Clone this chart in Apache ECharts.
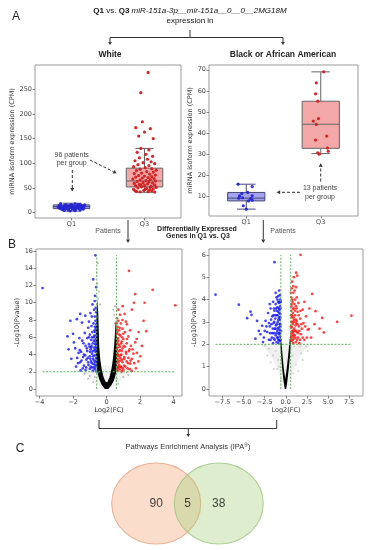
<!DOCTYPE html>
<html><head><meta charset="utf-8">
<script src="https://cdn.jsdelivr.net/npm/echarts@6/dist/echarts.min.js"></script>
<style>html,body{margin:0;padding:0;background:#fff}#c{width:368px;height:550px}</style>
</head><body><div id="c"></div>
<script>
// ---------- DATA ----------
const boxCats = ['Q1', 'Q3'];
// [min, Q1, median, Q3, max]
const whiteBox = [[3, 8, 12, 15.5, 19], [41, 52, 64, 90, 130]];
const blackBox = [[4, 7.9, 9.2, 11.9, 15.8], [30.3, 32.8, 44.2, 55.1, 69]];
// [jitter, CPM]
const whiteQ1 = [[-0.15,18],[0.05,17.5],[0.12,16.8],[-0.08,16.2],[0.18,15.6],[-0.02,15.2],[0.09,14.8],[-0.17,14.5],[0.14,14.1],[-0.1,13.8],[0.02,13.5],[0.16,13.2],[-0.05,13.0],[-0.14,12.7],[0.07,12.5],[0.11,12.2],[-0.09,12.0],[0.0,11.8],[0.17,11.5],[-0.12,11.2],[0.04,11.0],[-0.18,10.7],[0.13,10.4],[-0.03,10.1],[0.08,9.8],[-0.11,9.5],[0.15,9.2],[-0.06,8.9],[0.01,8.6],[-0.16,8.3],[0.1,8.0],[-0.08,7.6],[0.06,7.2],[0.16,6.8],[-0.13,6.4],[0.03,6.0],[-0.04,5.4],[0.12,5.0],[-0.1,4.5],[0.05,3.8],[-0.02,3.2],[0.09,16.0],[-0.07,14.0],[0.14,12.0],[-0.15,9.0],[0.0,15.8],[0.06,10.8],[-0.12,7.0]];
const whiteQ3 = [[0.05,284],[-0.05,243],[-0.03,184],[-0.12,172],[0.08,170],[0.0,163],[-0.08,155],[0.12,150],[-0.05,130],[0.06,127],[-0.1,122],[0.02,118],[0.11,114],[-0.07,111],[0.04,108],[-0.13,105],[0.09,103],[-0.02,101],[0.14,99],[-0.09,97],[0.06,95],[-0.15,93],[0.01,91],[0.1,89],[-0.06,88],[0.16,86],[-0.11,85],[0.03,83],[0.12,82],[-0.04,80],[-0.14,79],[0.07,78],[0.15,76],[-0.08,75],[0.0,74],[0.1,73],[-0.12,72],[0.05,71],[-0.03,70],[0.13,69],[-0.16,68],[0.08,67],[-0.06,66],[0.02,65],[0.15,64],[-0.1,63],[0.06,62],[-0.02,61],[0.11,60],[-0.14,59],[0.04,58],[-0.07,57],[0.14,56],[0.0,55],[-0.12,54],[0.09,53],[-0.04,52],[0.16,51],[-0.09,50],[0.03,49],[0.12,48],[-0.15,47],[0.07,46],[-0.01,45],[0.1,44],[-0.11,43],[0.05,42.5],[-0.06,42],[0.14,41.5],[-0.13,44],[0.01,47],[0.08,51],[-0.05,56]];
const blackQ1 = [[-0.11,15.8],[0.08,14.7],[0.02,11.9],[-0.06,11.4],[-0.09,10.3],[0.08,10.3],[-0.1,9.2],[-0.05,9.4],[0.06,9.0],[0.03,7.9],[0.08,8.2],[-0.04,5.6],[0.0,4.0]];
const blackQ3 = [[0.04,69],[-0.06,63.8],[-0.07,58.6],[-0.04,55.1],[-0.03,46.9],[-0.1,45.7],[-0.06,44.1],[0.08,38.6],[-0.07,36.7],[0.09,32.9],[0.1,31.4],[-0.04,30.7],[-0.02,30.0]];

const whiteBoxTicks = [0, 50, 100, 150, 200, 250];
const blackBoxTicks = [10, 20, 30, 40, 50, 60, 70];
const whiteVolXTicks = [-4, -2, 0, 2, 4];
const whiteVolYTicks = [0, 2, 4, 6, 8, 10, 12, 14, 16];
const blackVolXTicks = [-7.5, -5, -2.5, 0, 2.5, 5, 7.5];
const blackVolYTicks = [0, 1, 2, 3, 4, 5, 6];

const fcCut = 0.585;   // |log2 FC| threshold
const pCut = 2;        // -log10 p threshold

// volcano, White
const whiteBlue = [[-3.82,11.7],[-0.66,15.5],[-0.80,12.7],[-0.71,10.2],[-0.84,9.8],[-0.64,9.4],[-0.97,8.8],[-1.27,8.5],[-1.57,8.7],[-2.16,7.9],[-1.77,8.1],[-1.47,7.7],[-2.33,6.1],[-2.0,6.4],[-1.87,4.7],[-2.27,4.6],[-1.67,4.2],[-2.1,3.5],[-0.62,8.9],[-0.7,8.4],[-0.66,7.9],[-0.78,7.6],[-0.9,7.3],[-1.1,7.1],[-0.64,7.0],[-0.72,6.8],[-0.85,6.6],[-1.3,6.5],[-1.0,6.3],[-0.62,6.2],[-0.76,6.0],[-1.15,5.9],[-0.92,5.7],[-1.45,5.6],[-0.68,5.5],[-0.82,5.3],[-1.05,5.2],[-1.25,5.0],[-0.63,4.9],[-0.74,4.8],[-0.95,4.6],[-1.6,4.5],[-1.15,4.4],[-0.66,4.3],[-0.86,4.1],[-1.35,4.0],[-0.7,3.9],[-1.0,3.8],[-0.62,3.6],[-0.8,3.5],[-1.2,3.4],[-1.5,3.3],[-0.93,3.2],[-0.67,3.1],[-1.7,3.0],[-0.78,2.9],[-1.08,2.8],[-1.35,2.7],[-0.64,2.6],[-0.88,2.5],[-1.0,2.35],[-0.7,2.3],[-1.25,2.2],[-1.55,2.15],[-0.82,2.1],[-0.62,2.05],[-1.1,3.1],[-0.72,4.5],[-0.9,5.0],[-0.68,6.6],[-0.75,3.3],[-0.65,5.8],[-1.4,3.7],[-0.98,4.3],
  [-0.61,7.5],[-0.69,7.2],[-0.76,5.6],[-0.83,4.4],[-0.88,3.0],[-0.95,2.6],[-1.02,4.9],[-1.12,3.6],[-1.18,4.7],[-1.22,2.5],[-1.28,3.9],[-1.38,5.3],[-1.42,2.4],[-1.52,4.3],[-1.58,3.1],[-1.62,5.9],[-1.75,3.6],[-1.82,2.6],[-1.95,5.4],[-0.63,3.3],[-0.65,4.6],[-0.67,5.2],[-0.7,2.8],[-0.73,6.2],[-0.77,2.5],[-0.81,3.8],[-0.86,6.0],[-0.91,4.8],[-0.97,3.5],[-1.05,6.0],[-0.6,5.1],[-0.74,9.2],[-0.88,8.4],[-1.05,7.8],[-0.62,11.8],[-0.69,10.8]];
const whiteRed = [[1.34,13.7],[2.75,11.5],[4.10,9.7],[1.71,11.0],[2.27,10.0],[1.63,10.0],[1.51,9.2],[2.21,7.9],[2.37,6.7],[1.91,6.6],[1.71,5.4],[2.11,5.0],[1.81,4.2],[1.51,3.5],[2.01,3.8],[1.37,4.6],[1.21,7.5],[1.08,8.7],[0.96,9.6],[0.62,8.2],[0.7,7.9],[0.85,7.6],[0.65,7.2],[0.95,7.0],[0.75,6.8],[1.1,6.6],[0.62,6.4],[0.82,6.2],[1.3,6.1],[0.68,5.9],[1.0,5.8],[0.9,5.5],[0.64,5.4],[1.2,5.3],[0.76,5.1],[1.45,5.0],[0.66,4.8],[0.95,4.7],[0.8,4.5],[1.15,4.3],[0.63,4.2],[1.6,4.1],[0.88,4.0],[0.72,3.8],[1.05,3.7],[1.3,3.6],[0.65,3.5],[0.82,3.3],[1.2,3.2],[0.95,3.1],[0.62,3.0],[1.4,2.95],[0.75,2.8],[1.05,2.7],[0.88,2.55],[0.66,2.45],[1.25,2.4],[0.78,2.3],[1.0,2.2],[0.62,2.15],[1.5,2.1],[0.9,2.05],[0.7,2.5],[0.68,3.3],[0.72,4.4],[0.7,5.6],[0.78,7.1],[0.63,6.9],[0.85,3.9],[1.1,4.9],[0.92,6.0],[0.66,2.1],
  [0.61,7.6],[0.64,6.6],[0.67,5.2],[0.69,4.0],[0.71,3.1],[0.73,2.6],[0.76,6.3],[0.79,4.9],[0.81,3.6],[0.84,2.6],[0.87,5.3],[0.9,4.4],[0.93,3.4],[0.97,2.4],[1.02,5.0],[1.06,3.5],[1.12,2.6],[1.17,4.1],[1.22,5.8],[1.28,3.0],[1.33,4.4],[1.38,2.3],[1.43,3.3],[1.55,4.6],[1.65,3.0],[1.75,2.4],[1.9,3.2],[0.6,4.6],[0.62,5.8],[0.66,3.9],[0.8,8.6],[0.95,8.0],[1.15,7.8],[0.7,9.2],[1.4,6.8],[1.8,5.8],[0.63,2.6],[1.0,6.4]];
const whiteGrey = [[-0.5,10.5],[-0.45,11.3],[-0.38,9.8],[0.45,8.6],[0.4,9.2],[-1.0,1.5],[-1.3,1.8],[1.0,1.4],[1.2,1.9],[-0.8,0.8],[0.7,0.6],[-0.5,1.9],[0.9,1.9],[-0.55,12.2],[0.5,9.6],[-0.58,13.5],[-0.52,14.6],[-0.5,8.4],[0.5,7.6],[-1.1,1.2],[1.3,1.6],[-0.7,1.4],[0.6,1.2]];
const whiteCore = [[0.1,0],[-0.1,0],[-0.3,0.5],[-0.45,1.2],[-0.56,2.0],[-0.62,2.8],[-0.64,4.5],[-0.63,7],[-0.6,9],[-0.56,10.4],[-0.5,9],[-0.47,7],[-0.44,5],[-0.38,3.5],[-0.3,2.4],[-0.18,1.4],[-0.05,0.8],[0.05,0.8],[0.18,1.4],[0.3,2.4],[0.38,3.5],[0.45,5],[0.5,6.5],[0.54,8.0],[0.6,6.8],[0.63,4.5],[0.62,2.8],[0.56,1.8],[0.44,1.0],[0.28,0.4]];
const whiteHaze = [[-1.5,2.1],[-1.1,1.5],[-0.7,0.8],[-0.35,0.2],[0,-0.1],[0.35,0.2],[0.75,0.8],[1.15,1.5],[1.6,2.1],[0.7,2.6],[-0.7,2.6]];

// volcano, Black or African American
const blackBlue = [[-8.33,4.22],[-5.57,3.77],[-4.18,3.46],[-4.06,3.32],[-4.58,3.17],[-3.4,3.05],[-2.8,2.83],[-1.34,5.67],[-3.0,2.45],[-2.6,2.3],[-3.6,2.25],[-0.7,4.2],[-0.9,4.15],[-1.1,4.1],[-0.65,4.0],[-1.5,3.9],[-0.8,3.85],[-1.2,3.8],[-0.68,3.7],[-1.0,3.65],[-1.8,3.6],[-0.75,3.55],[-1.35,3.5],[-0.9,3.45],[-2.1,3.4],[-0.65,3.35],[-1.1,3.3],[-1.6,3.25],[-0.8,3.2],[-1.25,3.15],[-0.7,3.1],[-2.4,3.05],[-0.95,3.0],[-1.45,2.95],[-0.66,2.9],[-1.15,2.85],[-1.9,2.8],[-0.85,2.75],[-1.3,2.7],[-0.72,2.65],[-1.0,2.6],[-2.2,2.55],[-1.6,2.5],[-0.8,2.45],[-1.2,2.4],[-0.67,2.35],[-0.95,2.3],[-1.4,2.25],[-1.8,2.2],[-0.75,2.15],[-1.1,2.1],[-0.88,2.05],[-1.5,2.05],[-0.62,2.6],[-0.64,3.6],[-1.0,4.0],[-1.4,3.6],[-2.0,2.95],[-2.5,2.6],[-1.7,2.9],[-0.9,2.2],
  [-0.62,2.2],[-0.64,2.8],[-0.66,3.2],[-0.69,2.5],[-0.71,3.9],[-0.73,2.9],[-0.76,3.4],[-0.79,2.2],[-0.82,3.6],[-0.85,2.5],[-0.87,3.1],[-0.91,3.9],[-0.93,2.7],[-0.97,3.3],[-1.02,2.3],[-1.05,3.5],[-1.08,2.9],[-1.13,2.5],[-1.17,3.6],[-1.22,2.7],[-1.27,3.3],[-1.32,2.2],[-1.37,3.0],[-1.42,2.5],[-1.48,3.3],[-1.55,2.7],[-1.65,2.3],[-1.75,3.1],[-1.85,2.5],[-2.0,2.2],[-2.3,2.8],[-0.6,3.9],[-0.78,4.4],[-1.2,4.3],[-2.7,2.1],[-3.2,2.6],[-1.9,3.8]];
const blackRed = [[1.74,6.0],[1.23,5.2],[1.35,5.07],[1.23,4.55],[3.12,4.25],[7.78,3.28],[6.08,3.0],[4.31,3.18],[3.52,3.48],[4.5,2.53],[2.72,2.68],[0.7,4.5],[0.9,4.3],[0.65,4.1],[1.1,4.0],[0.8,3.9],[1.5,3.85],[0.7,3.8],[1.2,3.7],[0.95,3.6],[2.0,3.55],[0.66,3.5],[1.4,3.45],[0.85,3.4],[1.1,3.3],[2.4,3.25],[0.72,3.2],[1.7,3.15],[0.95,3.1],[1.3,3.05],[0.65,3.0],[2.1,2.95],[0.82,2.9],[1.15,2.85],[1.55,2.8],[0.7,2.75],[1.0,2.7],[2.6,2.65],[0.9,2.6],[1.3,2.55],[0.67,2.5],[1.8,2.45],[1.05,2.4],[0.78,2.35],[1.45,2.3],[0.95,2.25],[2.2,2.2],[0.7,2.15],[1.2,2.1],[0.88,2.05],[1.6,2.05],[0.62,2.3],[0.64,3.3],[0.9,4.6],[1.0,3.0],[1.9,2.7],[3.0,2.3],[2.8,3.6],[1.25,2.95],
  [0.61,2.2],[0.63,2.8],[0.66,3.7],[0.69,2.4],[0.71,3.3],[0.74,2.6],[0.76,4.0],[0.79,3.0],[0.82,2.2],[0.85,3.6],[0.87,2.5],[0.92,3.2],[0.97,2.4],[1.02,3.8],[1.06,2.6],[1.1,3.5],[1.14,2.3],[1.18,3.1],[1.22,2.6],[1.28,3.6],[1.33,2.2],[1.38,2.9],[1.45,2.5],[1.52,3.3],[1.6,2.6],[1.68,2.2],[1.75,3.5],[1.85,2.9],[2.0,2.3],[2.3,2.8],[2.5,2.3],[0.6,4.3],[0.75,4.8],[1.05,4.4],[1.3,4.1],[0.95,5.0],[2.2,3.9],[3.4,2.9],[4.0,2.7]];
const blackGrey = [[-2.0,1.8],[-1.5,1.5],[1.8,1.6],[2.4,1.9],[-1.0,0.9],[1.2,1.1],[-2.5,1.95],[0.6,0.5],[-0.6,0.45],[2.0,1.3],[-1.8,1.2],[1.5,0.8],[-0.4,2.6],[0.4,2.8],[-1.2,1.7],[1.0,1.9],[-2.2,1.5],[2.6,1.7],[-0.9,1.3],[0.9,0.7],[-1.4,0.9],[1.7,1.9],[-0.8,1.0],[0.8,1.5]];
const blackCore = [[0.05,0],[-0.12,0],[-0.3,0.45],[-0.45,1.0],[-0.58,1.6],[-0.66,2.1],[-0.62,2.45],[-0.5,2.05],[-0.38,1.5],[-0.25,0.95],[-0.06,0.45],[0.12,0.95],[0.28,1.5],[0.42,2.05],[0.55,2.45],[0.62,2.1],[0.52,1.6],[0.38,1.0],[0.22,0.45]];
const blackHaze = [[-3.0,2.0],[-2.3,1.75],[-1.6,1.35],[-1.0,0.9],[-0.55,0.45],[-0.2,0.1],[0,0],[0.2,0.1],[0.55,0.45],[1.0,0.9],[1.6,1.35],[2.3,1.75],[3.0,2.0]];

// Venn (pathways): White only, shared, Black only
const vennCounts = [90, 5, 38];
const vennLabelX = [0, 0.5, 1];
const vennCircleX = [0, 1];

// ---------- CHART ----------
const chart = echarts.init(document.getElementById('c'), null, {renderer: 'canvas'});
const TICKC = '#444', FS = 6.5, DV = 'DejaVu Sans', AR = 'Liberation Sans';
const minus = v => (v < 0 ? '\u2212' : '') + Math.abs(v);

function valAxis(grid, min, max, ticks, fmt, extra) {
  return Object.assign({
    type: 'value', gridIndex: grid, min, max,
    axisLine: {show: false, onZero: false},
    splitLine: {show: false},
    axisTick: {show: true, length: 2.5, customValues: ticks, lineStyle: {color: '#666', width: 0.8}},
    axisLabel: {customValues: ticks, fontSize: FS, color: TICKC, fontFamily: DV, margin: 3, formatter: fmt || (v => minus(v))}
  }, extra || {});
}

function boxRender(fills, strokes) {
  return function (params, api) {
    const i = api.value(0);
    const lo = api.coord([i, api.value(1)]), q1 = api.coord([i, api.value(2)]), md = api.coord([i, api.value(3)]),
          q3 = api.coord([i, api.value(4)]), hi = api.coord([i, api.value(5)]);
    const w = api.size([0.5, 0])[0], cw = w / 2, x = lo[0];
    const st = {stroke: strokes[i], lineWidth: 1, fill: null};
    return {type: 'group', children: [
      {type: 'line', shape: {x1: x, y1: hi[1], x2: x, y2: q3[1]}, style: st},
      {type: 'line', shape: {x1: x, y1: q1[1], x2: x, y2: lo[1]}, style: st},
      {type: 'line', shape: {x1: x - cw / 2, y1: hi[1], x2: x + cw / 2, y2: hi[1]}, style: st},
      {type: 'line', shape: {x1: x - cw / 2, y1: lo[1], x2: x + cw / 2, y2: lo[1]}, style: st},
      {type: 'rect', shape: {x: x - w / 2, y: q3[1], width: w, height: q1[1] - q3[1]}, style: {fill: fills[i], stroke: strokes[i], lineWidth: 1}},
      {type: 'line', shape: {x1: x - w / 2, y1: md[1], x2: x + w / 2, y2: md[1]}, style: st}
    ]};
  };
}
function polySeries(x, y, pts, fill, z, smooth) {
  return {type: 'custom', xAxisIndex: x, yAxisIndex: y, data: pts, z, silent: true,
    renderItem: (params, api) => {
      if (params.dataIndex !== 0) return null;
      return {type: 'polygon', shape: {points: pts.map(p => api.coord(p)), smooth: smooth || 0}, style: {fill}};
    }};
}
function strip(x, y, cat, pts, color) {
  return {type: 'scatter', xAxisIndex: x, yAxisIndex: y, data: pts.map(p => [cat + p[0], p[1]]),
    symbolSize: 3.2, itemStyle: {color, opacity: 0.95}, z: 5, silent: true};
}
function pts(x, y, data, color, size, op, z) {
  return {type: 'scatter', xAxisIndex: x, yAxisIndex: y, data, symbolSize: size, itemStyle: {color, opacity: op}, z: z || 3, silent: true};
}
function cutLines(ax, data) {
  const xs = data.map(p => p[0]), ys = data.map(p => p[1]);
  const xmin = Math.min(...xs), xmax = Math.max(...xs), ymax = Math.max(...ys);
  const ls = {color: '#5db35d', width: 1, type: [2, 1.5]};
  const mk = d => ({type: 'line', xAxisIndex: ax, yAxisIndex: ax, data: d, symbol: 'none', lineStyle: ls, z: 8, silent: true});
  return [mk([[-fcCut, 0], [-fcCut, ymax]]), mk([[fcCut, 0], [fcCut, ymax]]), mk([[xmin, pCut], [xmax, pCut]])];
}

function arrow(x1, y1, x2, y2, o) {
  o = o || {};
  const L = o.head || 4, W = o.w || 2, c = o.c || '#333';
  const dx = x2 - x1, dy = y2 - y1, len = Math.hypot(dx, dy), ux = dx / len, uy = dy / len;
  const bx = x2 - ux * L, by = y2 - uy * L;
  return [
    {type: 'line', shape: {x1, y1, x2: bx, y2: by}, style: {stroke: c, lineWidth: o.lw || 1, lineDash: o.dash || null}},
    {type: 'polygon', shape: {points: [[x2, y2], [bx - uy * W, by + ux * W], [bx + uy * W, by - ux * W]]}, style: {fill: c}}
  ];
}
function txt(x, y, text, o) {
  o = o || {};
  return {type: 'text', x, y, style: Object.assign({text, fill: '#222', fontSize: 7, fontFamily: AR,
    textAlign: 'center', textVerticalAlign: 'middle'}, o)};
}
function seg(x1, y1, x2, y2) {
  return {type: 'line', shape: {x1, y1, x2, y2}, style: {stroke: '#333', lineWidth: 1}};
}

const grids = [
  {left: 35, top: 65, width: 146, height: 153},
  {left: 209, top: 65, width: 149, height: 151},
  {left: 36, top: 249, width: 146, height: 147},
  {left: 209, top: 249, width: 154, height: 147},
  {left: 78, top: 463, width: 219, height: 81}
].map((g, i) => Object.assign({show: i < 4, borderColor: '#9a9a9a', borderWidth: 1, backgroundColor: 'transparent'}, g));

const catFmt = v => boxCats[Math.round(v)];
const yName = (name, gap) => ({name, nameLocation: 'middle', nameGap: gap, nameRotate: 90,
  nameTextStyle: {fontSize: FS, color: '#333', fontFamily: DV}});
const xName = (name, gap) => ({name, nameLocation: 'middle', nameGap: gap,
  nameTextStyle: {fontSize: FS, color: '#333', fontFamily: DV}});

const xAxis = [
  valAxis(0, -0.5, 1.5, [0, 1], catFmt),
  valAxis(1, -0.5, 1.5, [0, 1], catFmt),
  valAxis(2, -4.21, 4.5, whiteVolXTicks, null, xName('Log2(FC)', 11)),
  valAxis(3, -9.1, 9.15, blackVolXTicks, v => (v < 0 ? '\u2212' : '') + Math.abs(v).toFixed(1), xName('Log2(FC)', 11)),
  {type: 'value', gridIndex: 4, min: -1.25, max: 2.25, show: false}
];
const yAxis = [
  valAxis(0, -11, 299, whiteBoxTicks, null, yName('miRNA isoform expression (CPM)', 15)),
  valAxis(1, 0.75, 72.25, blackBoxTicks, null, yName('miRNA isoform expression (CPM)', 11)),
  valAxis(2, -0.81, 16.23, whiteVolYTicks, null, yName('-Log10(Pvalue)', 11)),
  valAxis(3, -0.31, 6.26, blackVolYTicks, null, yName('-Log10(Pvalue)', 7)),
  {type: 'value', gridIndex: 4, min: -1, max: 1, show: false}
];

const series = [
  // box plots
  {type: 'custom', xAxisIndex: 0, yAxisIndex: 0, data: whiteBox.map((b, i) => [i, ...b]), z: 2,
   renderItem: boxRender(['#a3a3ee', '#f3a7a7'], ['#4a4a78', '#666'])},
  strip(0, 0, 0, whiteQ1, '#2626d4'),
  strip(0, 0, 1, whiteQ3, '#d41c1c'),
  {type: 'custom', xAxisIndex: 1, yAxisIndex: 1, data: blackBox.map((b, i) => [i, ...b]), z: 2,
   renderItem: boxRender(['#a3a3ee', '#f3a7a7'], ['#4a4a78', '#666'])},
  strip(1, 1, 0, blackQ1, '#2626d4'),
  strip(1, 1, 1, blackQ3, '#d41c1c'),
  // volcano white
  polySeries(2, 2, whiteHaze, 'rgba(0,0,0,0.05)', 1, 0.3),
  pts(2, 2, whiteGrey, '#888', 2, 0.6, 2),
  polySeries(2, 2, whiteCore, '#000', 2, 0),
  pts(2, 2, whiteBlue, '#1414ff', 2.7, 0.8, 3),
  pts(2, 2, whiteRed, '#ff1414', 2.7, 0.8, 3),
  ...cutLines(2, whiteBlue.concat(whiteRed)),
  // volcano black
  polySeries(3, 3, blackHaze, 'rgba(0,0,0,0.06)', 1, 0.3),
  pts(3, 3, blackGrey, '#aaa', 2, 0.5, 2),
  polySeries(3, 3, blackCore, '#000', 2, 0),
  pts(3, 3, blackBlue, '#1414ff', 2.7, 0.8, 3),
  pts(3, 3, blackRed, '#ff1414', 2.7, 0.8, 3),
  ...cutLines(3, blackBlue.concat(blackRed)),
  // venn
  {type: 'scatter', xAxisIndex: 4, yAxisIndex: 4, symbolSize: [89, 81], silent: true, z: 2,
   data: [
     {value: [vennCircleX[0], 0], itemStyle: {color: 'rgba(240,160,110,0.45)', borderColor: '#e2a380', borderWidth: 1}},
     {value: [vennCircleX[1], 0], itemStyle: {color: 'rgba(160,205,120,0.45)', borderColor: '#9cc47f', borderWidth: 1}}
   ]},
  {type: 'scatter', xAxisIndex: 4, yAxisIndex: 4, symbolSize: 1, itemStyle: {color: 'transparent'}, silent: true, z: 4,
   data: vennCounts.map((c, i) => [vennLabelX[i], 0, c]),
   label: {show: true, position: 'inside', formatter: p => String(p.value[2]), fontSize: 12, color: '#111', fontFamily: AR}}
];

const graphic = [
  txt(16, 17, 'A', {fontSize: 12, fill: '#222'}),
  txt(12, 245, 'B', {fontSize: 12, fill: '#222'}),
  txt(20, 449, 'C', {fontSize: 12, fill: '#222'}),
  {type: 'text', x: 190, y: 11, style: {text: '{b|Q1} vs. {b|Q3} {i|miR-151a-3p__mir-151a__0__0__2MG18M}',
    rich: {b: {fontWeight: 'bold', fontSize: 8, fontFamily: AR, fill: '#111'}, i: {fontStyle: 'italic', fontSize: 8, fontFamily: AR, fill: '#111'}},
    fontSize: 8, fontFamily: AR, fill: '#111', textAlign: 'center', textVerticalAlign: 'middle'}},
  txt(190, 21, 'expression in', {fontSize: 8, fill: '#111'}),
  seg(190, 30, 190, 37.5), seg(110, 37.5, 283, 37.5),
  ...arrow(110, 37.5, 110, 45, {head: 3, w: 1.8}),
  ...arrow(283, 37.5, 283, 45, {head: 3, w: 1.8}),
  txt(110, 55, 'White', {fontSize: 8.5, fontWeight: 'bold'}),
  txt(283, 55, 'Black or African American', {fontSize: 8.5, fontWeight: 'bold'}),
  // annotations
  txt(71.7, 155, '96 patients', {fontSize: 7, fill: '#444'}),
  txt(71.7, 163.3, 'per group', {fontSize: 7, fill: '#444'}),
  ...arrow(72.3, 170, 72.3, 191.5, {dash: [3, 2], c: '#333', head: 3.5, w: 2}),
  ...arrow(90, 160, 116.7, 173.3, {dash: [3, 2], c: '#333', head: 3.5, w: 2}),
  txt(320, 187.7, '13 patients', {fontSize: 7, fill: '#444'}),
  txt(320, 196.7, 'per group', {fontSize: 7, fill: '#444'}),
  ...arrow(300, 192.3, 276.7, 192.3, {dash: [3, 2], c: '#333', head: 3.5, w: 2}),
  ...arrow(320.7, 181.5, 320.7, 163.3, {dash: [3, 2], c: '#333', head: 3.5, w: 2}),
  // Patients arrows
  ...arrow(128, 220, 128, 243, {head: 3.5, w: 2}),
  ...arrow(263.3, 220, 263.3, 243, {head: 3.5, w: 2}),
  txt(108, 231, 'Patients', {fontSize: 7, fill: '#555'}),
  txt(283, 231, 'Patients', {fontSize: 7, fill: '#555'}),
  txt(197, 229, 'Differentially Expressed', {fontSize: 7, fontWeight: 'bold'}),
  txt(198, 236.5, 'Genes in Q1 vs. Q3', {fontSize: 7, fontWeight: 'bold'}),
  // bottom bracket
  seg(99, 420, 99, 428.5), seg(276.7, 420, 276.7, 428.5), seg(99, 428.5, 276.7, 428.5),
  ...arrow(188.3, 428.5, 188.3, 437, {head: 3, w: 1.8}),
  {type: 'text', x: 188, y: 446.7, style: {text: 'Pathways Enrichment Analysis (IPA{s|\u00AE})',
    rich: {s: {fontSize: 5, verticalAlign: 'top', fontFamily: AR, fill: '#333'}},
    fontSize: 7.5, fontFamily: AR, fill: '#333', textAlign: 'center', textVerticalAlign: 'middle'}}
];

chart.setOption({animation: false, textStyle: {fontFamily: DV}, grid: grids, xAxis, yAxis, series, graphic});
</script>
</body></html>
